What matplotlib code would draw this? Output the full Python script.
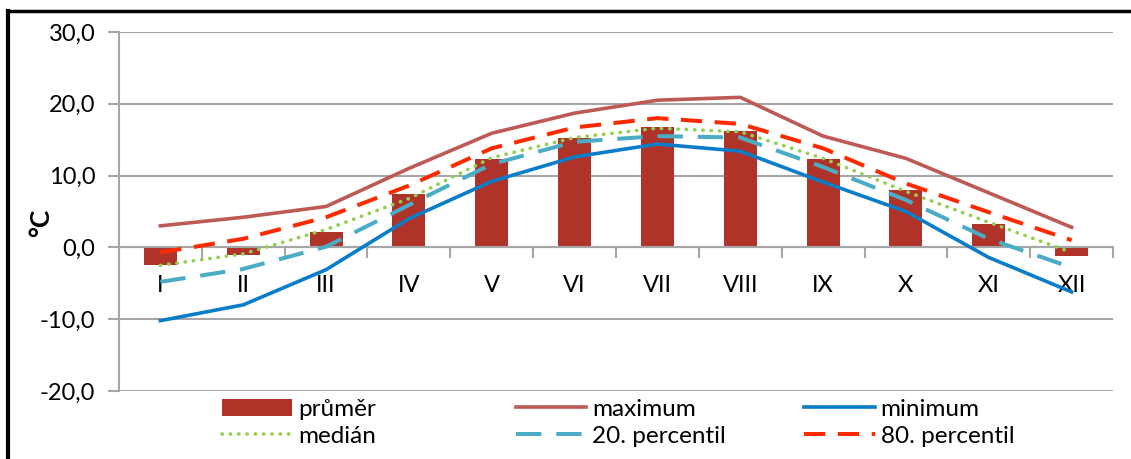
import matplotlib.pyplot as plt
from matplotlib.lines import Line2D
import numpy as np

plt.rcParams['font.family'] = ['Lato', 'DejaVu Sans']

months = ["I", "II", "III", "IV", "V", "VI", "VII", "VIII", "IX", "X", "XI", "XII"]
prumer = [-2.5, -1.1, 2.2, 7.4, 12.3, 15.3, 16.7, 16.2, 12.3, 8.0, 3.2, -1.2]
maximum = [3.0, 4.2, 5.7, 11.0, 15.9, 18.7, 20.5, 20.9, 15.5, 12.4, 7.6, 2.8]
minimum = [-10.2, -8.0, -3.1, 4.0, 9.2, 12.6, 14.4, 13.4, 9.1, 5.0, -1.4, -6.2]
median = [-2.5, -0.9, 2.5, 6.8, 12.5, 15.3, 16.6, 16.1, 12.4, 7.8, 3.5, -0.7]
perc20 = [-4.8, -3.0, 0.1, 5.9, 11.6, 14.7, 15.5, 15.3, 11.2, 6.6, 1.2, -2.8]
perc80 = [-0.7, 1.2, 4.2, 8.6, 13.8, 16.7, 18.0, 17.2, 13.8, 8.9, 4.9, 1.0]
yticks = [-20, -10, 0, 10, 20, 30]

grid_c = "#A6A6A6"
x = np.arange(len(months))

fig = plt.figure(figsize=(11.31, 4.59), dpi=100)
ax = fig.add_axes([0.1052, 0.1481, 0.8789, 0.7822])

bars = ax.bar(x, prumer, width=0.4, color="#B0332A", zorder=2, label="průměr")
l_max, = ax.plot(x, maximum, color="#BE5A55", lw=2.6, zorder=3, label="maximum")
l_min, = ax.plot(x, minimum, color="#0A7DC8", lw=2.6, zorder=3, label="minimum")
l_med, = ax.plot(x, median, color="#92D050", lw=2.6, zorder=3, label="medián",
                 linestyle=(0, (0.1, 2.2)), dash_capstyle="round")
l_p20, = ax.plot(x, perc20, color="#4BACC6", lw=2.9, zorder=3, label="20. percentil",
                 linestyle=(0, (6.3, 3.7)))
l_p80, = ax.plot(x, perc80, color="#FF2A00", lw=2.9, zorder=4, label="80. percentil",
                 linestyle=(0, (5.3, 3.1)))

ax.set_xlim(-0.5, 11.5)
ax.set_ylim(-20, 30)
ax.set_yticks(yticks)
ax.set_yticklabels([f"{v:.1f}".replace(".", ",") for v in yticks], fontsize=17)
ax.tick_params(axis="y", length=8, width=1.5, color=grid_c, pad=9)

# category axis sits on zero, ticks between months
ax.spines["bottom"].set_position(("data", 0))
ax.spines["bottom"].set_color(grid_c)
ax.spines["bottom"].set_linewidth(1.5)
ax.spines["left"].set_color(grid_c)
ax.spines["left"].set_linewidth(1.5)
ax.spines["top"].set_visible(False)
ax.spines["right"].set_visible(False)
ax.set_xticks(x)
ax.set_xticklabels(months, fontsize=17)
ax.tick_params(axis="x", which="major", length=0, pad=20)
ax.set_xticks(np.arange(-0.5, 12, 1), minor=True)
ax.tick_params(axis="x", which="minor", length=8, width=1.5, color=grid_c)

ax.yaxis.grid(True, color=grid_c, lw=1.5, zorder=0)
ax.set_axisbelow(True)

fig.text(0.036, 0.515, "°C", rotation=90, fontsize=19, fontweight="bold",
         ha="center", va="center")

# three legend columns, two rows each
groups = [(bars, l_med), (l_max, l_p20), (l_min, l_p80)]
col_x = [0.196, 0.456, 0.711]
for (h1, h2), cx in zip(groups, col_x):
    fig.legend([h1, h2], [h1.get_label(), h2.get_label()], loc="upper left",
               bbox_to_anchor=(cx, 0.131), frameon=False, fontsize=17.5,
               handlelength=2.9, handletextpad=0.25, labelspacing=0.25,
               borderpad=0, borderaxespad=0)

# outer frame
fig.add_artist(Line2D([0.0075, 0.0075], [0.0, 0.976], color="black", lw=3,
                      transform=fig.transFigure, solid_capstyle="projecting"))
fig.add_artist(Line2D([0.0075, 1.0], [0.976, 0.976], color="black", lw=2.5,
                      transform=fig.transFigure, solid_capstyle="projecting"))

fig.savefig("out.png", dpi=100)
